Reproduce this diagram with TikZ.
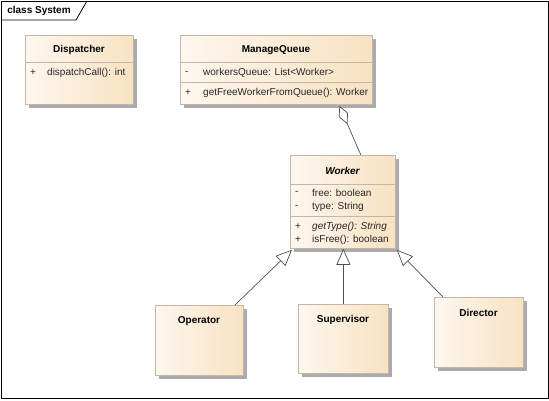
\documentclass[tikz,border=0pt]{standalone}
\usepackage{fontspec}
\setmainfont{Liberation Sans}
\usetikzlibrary{arrows.meta,shadows,calc}

\definecolor{boxlight}{HTML}{FDF7EE}
\definecolor{boxdark}{HTML}{F8E2C2}
\definecolor{boxedge}{HTML}{C2B8A8}
\definecolor{shadowgray}{HTML}{ABABAB}
\definecolor{linegray}{HTML}{505050}
\definecolor{textgray}{HTML}{262626}

\begin{document}
\begin{tikzpicture}[x=1pt,y=-1pt,
  every node/.style={font=\fontsize{10}{12}\selectfont, inner sep=0pt, text=textgray},
  umlbox/.style={draw=boxedge, line width=0.8pt, left color=boxlight, right color=boxdark,
    anchor=north west, inner sep=0pt,
    drop shadow={shadow xshift=3.5pt, shadow yshift=-3.5pt, fill=shadowgray, opacity=1}},
  sepline/.style={draw=boxedge, line width=0.8pt},
  title/.style={font=\fontsize{10}{12}\selectfont\bfseries, text=black},
  member/.style={anchor=west},
  gen/.style={draw=linegray, line width=0.7pt, -{Triangle[open, length=16pt, width=14pt, fill=white]}},
  agg/.style={draw=linegray, line width=0.7pt, -{Diamond[open, length=20pt, width=10pt, fill=white]}}
]
\useasboundingbox (0,0) rectangle (549,400);

% diagram frame with its name tab
\draw[black, line width=0.8pt] (1,1) rectangle (548,398);
\draw[black, line width=0.8pt] (1,20) -- (76,20) -- (87,1);
\node[title] (frametitle) at (39,11) {class System};

% Dispatcher
\node[umlbox, minimum width=108pt, minimum height=69pt] (disp) at (25,35) {};
\draw[sepline] ($(disp.north west)+(0,27)$) -- ($(disp.north east)+(0,27)$);
\node[title] (disptitle) at (79,50) {Dispatcher};
\node[member] (dispvis) at (30,73) {+};
\node[member] (dispop) at (47,73) {dispatchCall(): int};

% ManageQueue
\node[umlbox, minimum width=192pt, minimum height=69pt] (mq) at (180,35) {};
\draw[sepline] ($(mq.north west)+(0,27)$) -- ($(mq.north east)+(0,27)$);
\draw[sepline] ($(mq.north west)+(0,47)$) -- ($(mq.north east)+(0,47)$);
\node[title] (mqtitle) at (276,50) {ManageQueue};
\node[member] (mqvisa) at (185,73) {-};
\node[member] (mqattr) at (203,73) {workersQueue: List<Worker>};
\node[member] (mqvisb) at (185,93) {+};
\node[member] (mqop) at (203,93) {getFreeWorkerFromQueue(): Worker};

% Worker
\node[umlbox, minimum width=105pt, minimum height=93pt] (worker) at (290,155) {};
\draw[sepline] ($(worker.north west)+(0,29)$) -- ($(worker.north east)+(0,29)$);
\draw[sepline] ($(worker.north west)+(0,61)$) -- ($(worker.north east)+(0,61)$);
\node[title, font=\fontsize{10}{12}\selectfont\bfseries\itshape] (wtitle) at (342.5,171) {Worker};
\node[member] (wvisa) at (295,193) {-};
\node[member] (wattra) at (312,193) {free: boolean};
\node[member] (wvisb) at (295,207) {-};
\node[member] (wattrb) at (312,207) {type: String};
\node[member] (wvisc) at (295,227) {+};
\node[member] (wopa) at (312,227) {\itshape getType(): String};
\node[member] (wvisd) at (295,240) {+};
\node[member] (wopb) at (312,240) {isFree(): boolean};

% subclasses
\node[umlbox, minimum width=88pt, minimum height=70pt] (oper) at (155,305) {};
\node[title] (opertitle) at (199,321) {Operator};
\node[umlbox, minimum width=90pt, minimum height=69pt] (sup) at (298,304) {};
\node[title] (suptitle) at (343,320) {Supervisor};
\node[umlbox, minimum width=89pt, minimum height=70pt] (dir) at (434,297) {};
\node[title] (dirtitle) at (478.5,313) {Director};

% aggregation: ManageQueue holds Workers
\coordinate (aggstart) at ($(worker.north)+(18,0)$);
\coordinate (aggend) at ($(mq.south)+(63,1)$);
\draw[agg] (aggstart) -- (aggend);

% generalizations to Worker
\coordinate (opstart) at ($(oper.north west)+(80,0)$);
\coordinate (optip) at ($(worker.south west)+(2,1)$);
\draw[gen] (opstart) -- (optip);
\draw[gen] (sup.north) -- (sup.north |- worker.south);
\coordinate (dirstart) at ($(dir.north west)+(9,0)$);
\coordinate (dirtip) at ($(worker.south east)+(1,1)$);
\draw[gen] (dirstart) -- (dirtip);
\end{tikzpicture}
\end{document}
